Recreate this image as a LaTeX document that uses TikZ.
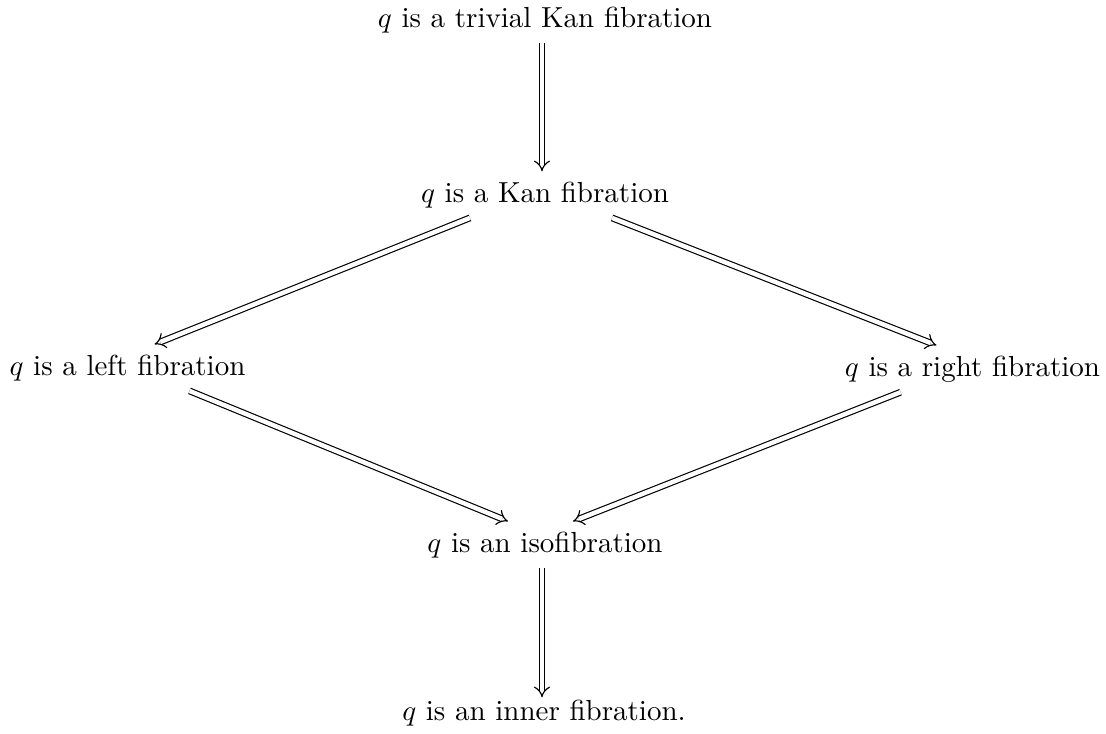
\documentclass[tikz,border=0pt]{standalone}
\usetikzlibrary{arrows.meta}

\begin{document}
\begin{tikzpicture}[x=0.3448pt,y=-0.3448pt,every node/.style={anchor=base},imp/.style={double,double equal sign distance,line width=0.4pt,-{Implies}}]
\useasboundingbox (0,0) rectangle (1106,734);
\node (triv) at (545,27.5){$q$ is a trivial Kan fibration};
\node (kan) at (545,202){$q$ is a Kan fibration};
\node (lfib) at (127.5,375){$q$ is a left fibration};
\node (rfib) at (972.5,376){$q$ is a right fibration};
\node (iso) at (545,552){$q$ is an isofibration};
\node (inner) at (544,720){$q$ is an inner fibration.};
\foreach \a/\sa/\b/\sb/\yb in {triv/-3/kan/-3/0,kan/-75/lfib/27/0,kan/67/rfib/-36/0,lfib/62/iso/-37/0,rfib/-72/iso/28/0,iso/-3/inner/-2/-8}{
  \draw[imp] ([xshift=\sa*0.3448pt]\a.south) -- ([xshift=\sb*0.3448pt,yshift=\yb*0.3448pt]\b.north);
}
\end{tikzpicture}
\end{document}
